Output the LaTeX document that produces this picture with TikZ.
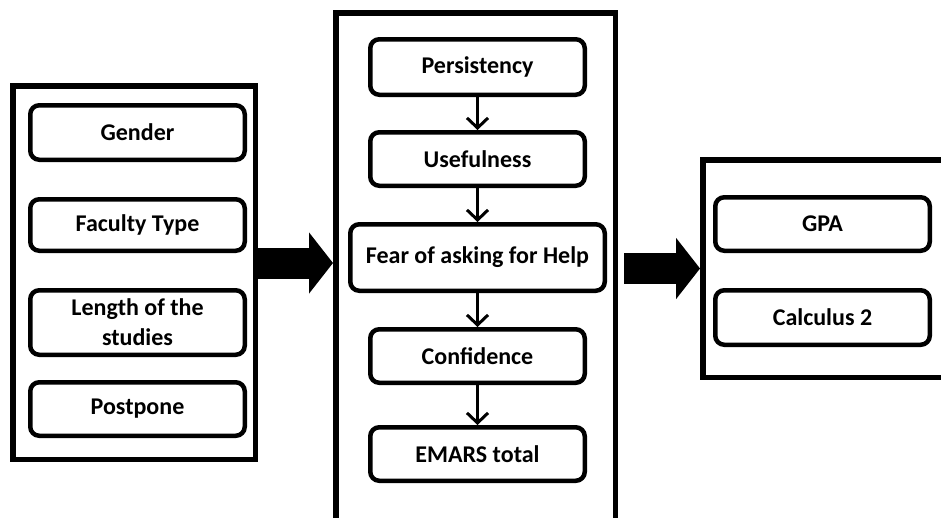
\documentclass[tikz,border=0pt]{standalone}
\usepackage{fontspec}
\setmainfont{Carlito}
\usetikzlibrary{arrows.meta}
\tikzset{
  outerbox/.style={draw, line width=5.5pt, rectangle, inner sep=0pt},
  innerbox/.style={draw, line width=4.5pt, rounded corners=9pt, rectangle, inner sep=0pt,
    align=center, font=\bfseries\fontsize{24}{30}\selectfont},
  smallarrow/.style={line width=3pt, -{Straight Barb[length=10pt,width=21pt,line width=3pt]}},
  bigarrow/.style={line width=31pt, -{Triangle[length=24pt,width=60pt]}},
}
\begin{document}
\begin{tikzpicture}[x=1pt,y=-1pt]
\useasboundingbox (0,0) rectangle (941,517);
\clip (0,0) rectangle (941,517);
% outer boxes
\node[outerbox, minimum width=242.5pt, minimum height=373.5pt] (L) at (134,272.5) {};
\node[outerbox, minimum width=279.5pt, minimum height=517pt] (M) at (475.5,271.3) {};
\node[outerbox, minimum width=257pt, minimum height=217.5pt] (R) at (831.3,268.5) {};
% left inner boxes
\node[innerbox, minimum width=214.5pt, minimum height=54.5pt] (g) at (137.5,132.5) {Gender};
\node[innerbox, minimum width=214.5pt, minimum height=51.5pt] (ft) at (137.5,225) {Faculty Type};
\node[innerbox, minimum width=214.5pt, minimum height=64.5pt] (ls) at (137.5,322.5) {Length of the\\studies};
\node[innerbox, minimum width=214.5pt, minimum height=53.5pt] (pp) at (137.5,409) {Postpone};
% middle inner boxes
\node[innerbox, minimum width=214.5pt, minimum height=55.5pt] (pe) at (477.5,67) {Persistency};
\node[innerbox, minimum width=214.5pt, minimum height=53.5pt] (us) at (477.5,159) {Usefulness};
\node[innerbox, minimum width=254.5pt, minimum height=66.5pt] (fe) at (477.5,257.5) {Fear of asking for Help};
\node[innerbox, minimum width=214.5pt, minimum height=53.5pt] (co) at (477.5,356) {Confidence};
\node[innerbox, minimum width=214.5pt, minimum height=53.5pt] (em) at (477.5,454) {EMARS total};
% right inner boxes
\node[innerbox, minimum width=214.5pt, minimum height=53.5pt] (gpa) at (822.5,224) {GPA};
\node[innerbox, minimum width=214.5pt, minimum height=54.5pt] (ca) at (822.5,317.5) {Calculus 2};
% small arrows
\draw[smallarrow] (pe.south) -- (us.north);
\draw[smallarrow] (us.south) -- (fe.north);
\draw[smallarrow] (fe.south) -- (co.north);
\draw[smallarrow] (co.south) -- (em.north);
% big arrows
\coordinate (a1) at ([yshift=9.5pt]L.east);
\draw[bigarrow] (a1) -- (a1 -| M.west);
\coordinate (a2) at ([xshift=6pt]M.east |- R.west);
\draw[bigarrow] (a2) -- (R.west);
\end{tikzpicture}
\end{document}
